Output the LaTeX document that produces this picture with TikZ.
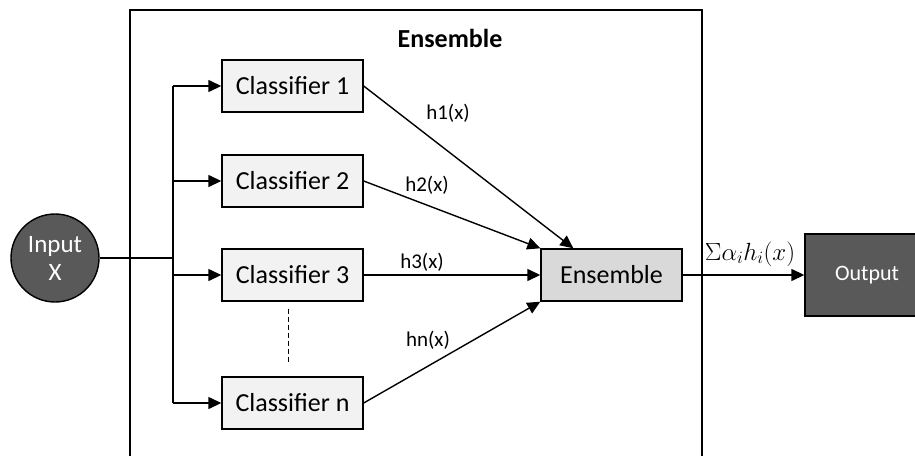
\documentclass[tikz,border=0pt]{standalone}
\usepackage{fontspec}
\setmainfont{Carlito}
\usetikzlibrary{arrows.meta}
\usetikzlibrary{positioning}
\definecolor{darkbox}{HTML}{595959}
\definecolor{lightbox}{HTML}{F2F2F2}
\definecolor{midbox}{HTML}{D9D9D9}

\begin{document}
\begin{tikzpicture}[x=1pt,y=-1pt,line width=1.4pt,>={Triangle[length=13pt,width=12pt]},
  clf/.style={draw,fill=lightbox,minimum width=141pt,minimum height=52pt,inner sep=0pt,font=\fontsize{26}{30}\selectfont},
  lbl/.style={inner sep=1pt,font=\fontsize{21}{25}\selectfont}]
  \clip (0,0) rectangle (915,455);
  \draw (130,10) rectangle (702,470);
  \node (title) at (450,38)[font=\fontsize{26}{30}\selectfont\bfseries]{Ensemble};
  \node (in) at (55,258)[circle,draw,fill=darkbox,text=white,minimum size=88pt,inner sep=0pt,align=center,font=\fontsize{25}{28}\selectfont]{Input\\X};
  \node (c1) at (292.5,86)[clf]{Classifier 1};
  \node (c2) at (292.5,181)[clf]{Classifier 2};
  \node (c3) at (292.5,275)[clf]{Classifier 3};
  \node (cn) at (292.5,403)[clf]{Classifier n};
  \node (ens) at (611.5,275)[clf,fill=midbox]{Ensemble};
  \node (out) at (867,275)[draw,fill=darkbox,text=white,minimum width=124pt,minimum height=82pt,font=\fontsize{22}{26}\selectfont]{Output};
  \coordinate (bus) at (173,258);

  \draw (in) -- (bus);
  \draw (bus|-c1) -- (bus|-cn);
  \draw[->] (bus|-c1) -- (c1);
  \draw[->] (bus|-c2) -- (c2);
  \draw[->] (bus|-c3) -- (c3);
  \draw[->] (bus|-cn) -- (cn);
  \draw[dashed,line width=1.1pt,dash pattern=on 5pt off 3pt]([xshift=-4pt,yshift=-7pt]c3.south) -- ([xshift=-4pt,yshift=12pt]cn.north);

  \draw[->] (c1.east) -- ([xshift=33pt]ens.north west);
  \draw[->] (c2.east) -- (ens.north west);
  \draw[->] (c3) -- (ens);
  \draw[->] (cn.east) -- (ens.south west);
  \draw[->] (ens) -- (out);

  \node (h1) at (448,113)[lbl]{h1(x)};
  \node (h2) at (427,185)[lbl]{h2(x)};
  \node (h3) at (422,262)[lbl]{h3(x)};
  \node (hn) at (428,340)[lbl]{hn(x)};
  \node (sum) at (750,254)[lbl,font=\fontsize{23}{27}\selectfont]{$\Sigma\alpha_i h_i(x)$};
\end{tikzpicture}
\end{document}
